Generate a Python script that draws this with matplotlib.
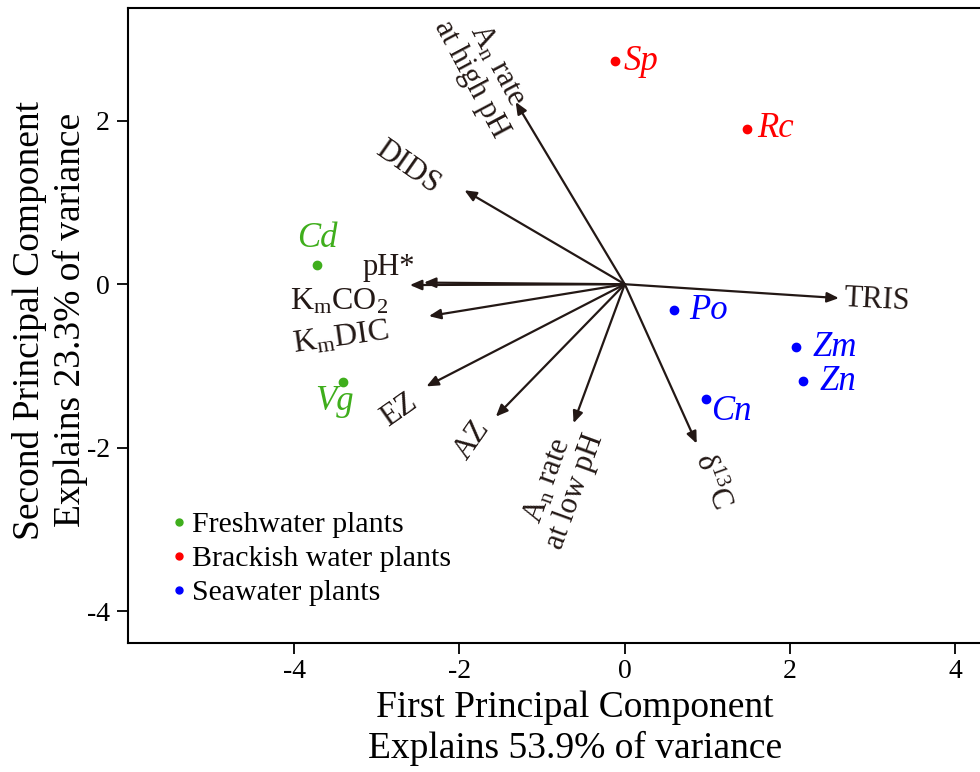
import matplotlib
matplotlib.use("Agg")
import matplotlib.pyplot as plt

plt.rcParams['font.family'] = ['Liberation Serif', 'DejaVu Serif']
plt.rcParams['mathtext.fontset'] = 'custom'
plt.rcParams['mathtext.rm'] = 'Liberation Serif'
plt.rcParams['mathtext.it'] = 'Liberation Serif:italic'
plt.rcParams['axes.unicode_minus'] = False

# ---- data ----
species = ['Sp', 'Rc', 'Cd', 'Vg', 'Po', 'Zm', 'Zn', 'Cn']
group = ['Brackish', 'Brackish', 'Fresh', 'Fresh', 'Sea', 'Sea', 'Sea', 'Sea']
pc1 = [-0.12, 1.48, -3.72, -3.41, 0.60, 2.07, 2.15, 0.98]
pc2 = [2.73, 1.90, 0.24, -1.20, -0.32, -0.77, -1.19, -1.40]

variables = ['A$_\\mathregular{n}$ rate\nat high pH', 'DIDS', 'pH*', 'K$_\\mathregular{m}$CO$_\\mathregular{2}$',
             'K$_\\mathregular{m}$DIC', 'EZ', 'AZ', 'A$_\\mathregular{n}$ rate\nat low pH',
             '$\\mathregular{\\delta^{13}}$C', 'TRIS']
load1 = [-1.32, -1.94, -2.43, -2.60, -2.37, -2.40, -1.56, -0.62, 0.87, 2.59]
load2 = [2.23, 1.15, 0.02, -0.01, -0.39, -1.25, -1.62, -1.70, -1.95, -0.17]

group_names = ['Freshwater plants', 'Brackish water plants', 'Seawater plants']
group_keys = ['Fresh', 'Brackish', 'Sea']
group_colors = {'Fresh': '#3fae1c', 'Brackish': '#ff0000', 'Sea': '#0000ff'}

xticks = [-4, -2, 0, 2, 4]
yticks = [-4, -2, 0, 2]

# ---- style / placement ----
var_label_pos = [(-1.70, 2.60), (-2.63, 1.43), (-2.85, 0.21), (-3.45, -0.22), (-3.43, -0.66),
                 (-2.73, -1.54), (-1.84, -1.91), (-0.77, -2.47), (1.05, -2.42), (3.05, -0.20)]
var_label_rot = [-62, -35, 0, 0, 8, 35, 55, 70, -70, -3]
var_label_size = [22, 22, 22, 23, 23, 22, 22, 22, 22, 22]
sp_offsets = [(6, 0, 'left'), (7, 0, 'left'), (0, 19, 'center'), (-6, -14, 'center'),
              (11, 0, 'left'), (12, 0, 'left'), (12, 0, 'left'), (4, -9, 'left')]

text_col = '#231815'

fig = plt.figure(figsize=(9.8, 7.72), dpi=100)
ax = fig.add_axes([128/980, 129/772, 1 - 128/980 + 0.05, (643-8)/772])
ax.set_xlim(-6.01, 4.89)
ax.set_ylim(-4.39, 3.38)

for x, y in zip(load1, load2):
    ax.annotate('', xy=(x, y), xytext=(0, 0),
                arrowprops=dict(arrowstyle='-|>,head_length=0.7,head_width=0.3',
                                color=text_col, lw=1.6, shrinkA=0, shrinkB=0))

for name, (lx, ly), rot, fs in zip(variables, var_label_pos, var_label_rot, var_label_size):
    ax.text(lx, ly, name, rotation=rot, ha='center', va='center', fontsize=fs,
            color=text_col, rotation_mode='anchor', linespacing=1.0)

for s, g, x, y, (dx, dy, ha) in zip(species, group, pc1, pc2, sp_offsets):
    c = group_colors[g]
    ax.plot(x, y, 'o', color=c, markersize=6)
    ax.annotate(s, (x, y), xytext=(dx, dy), textcoords='offset points', ha=ha, va='center',
                fontsize=25, style='italic', color=c)

handles = []
for k, n in zip(group_keys, group_names):
    h, = ax.plot([], [], 'o', color=group_colors[k], markersize=5, label=n)
    handles.append(h)
ax.legend(handles=handles, loc='lower left', bbox_to_anchor=(0.048, 0.058), frameon=False,
          fontsize=21.5, handlelength=0.5, handletextpad=0.2, labelspacing=0.24,
          borderaxespad=0, borderpad=0)

ax.set_xticks(xticks)
ax.set_yticks(yticks)
ax.tick_params(labelsize=20, length=8, width=1.3, direction='out')
ax.tick_params(axis='y', pad=5)
for sp in ['left', 'bottom', 'top']:
    ax.spines[sp].set_linewidth(1.5)
ax.spines['right'].set_visible(False)

fig.text(575/980, 1 - 728/772, 'First Principal Component\nExplains 53.9% of variance',
         ha='center', va='center', fontsize=27, linespacing=1.2)
fig.text(50/980, 1 - 320/772, 'Second Principal Component\nExplains 23.3% of variance',
         ha='center', va='center', fontsize=27, linespacing=1.25, rotation=90)

fig.savefig('out.png', dpi=100)
